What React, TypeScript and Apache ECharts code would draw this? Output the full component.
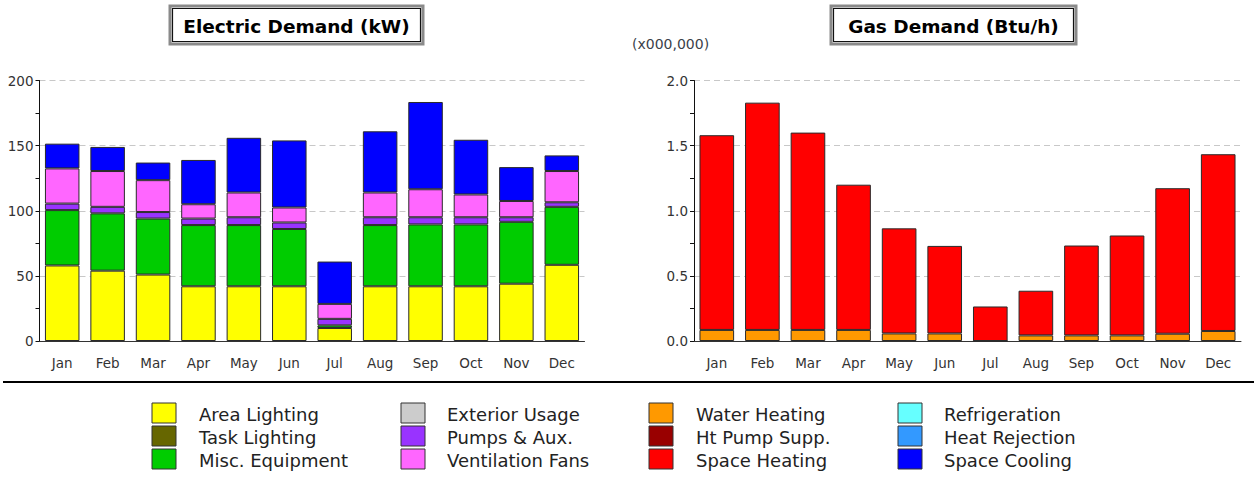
import React, { useEffect, useRef } from "react";
import * as echarts from "echarts";

const months = ["Jan", "Feb", "Mar", "Apr", "May", "Jun", "Jul", "Aug", "Sep", "Oct", "Nov", "Dec"];

// Electric demand (kW)
const areaLighting = [58, 54, 51, 42, 42, 42, 10, 42, 42, 42, 44, 58.5];
const miscEquipment = [42.5, 44, 43, 47, 47, 44, 2, 47, 47.5, 47.5, 47.5, 44.5];
const pumpsAux = [5, 5, 5, 5, 6, 5, 5, 6, 5.5, 5.5, 3.5, 3.5];
const ventilationFans = [27, 27.5, 24.5, 11, 19, 11.5, 11.5, 19, 21.5, 17.5, 12.5, 24];
const spaceCooling = [19, 18.5, 13.5, 34, 42, 51.5, 32.5, 47, 67, 42, 26, 12];

// Gas demand (Btu/h, x000,000)
const waterHeating = [0.085, 0.085, 0.085, 0.085, 0.058, 0.058, 0, 0.043, 0.043, 0.043, 0.056, 0.077];
const spaceHeating = [1.495, 1.745, 1.515, 1.115, 0.807, 0.672, 0.265, 0.343, 0.69, 0.767, 1.117, 1.357];

const electricTicks = [0, 200, 50];
const gasTicks = [0, 2, 0.5];

const legendNames = [
  ["Area Lighting", "Task Lighting", "Misc. Equipment"],
  ["Exterior Usage", "Pumps & Aux.", "Ventilation Fans"],
  ["Water Heating", "Ht Pump Supp.", "Space Heating"],
  ["Refrigeration", "Heat Rejection", "Space Cooling"],
];
const legendColors = [
  ["#FFFF00", "#666600", "#00CC00"],
  ["#CCCCCC", "#9933FF", "#FF66FF"],
  ["#FF9900", "#990000", "#FF0000"],
  ["#66FFFF", "#3399FF", "#0000FF"],
];

const FONT = "DejaVu Sans, Verdana, sans-serif";

export default function App() {
  const ref = useRef<HTMLDivElement>(null);
  useEffect(() => {
    const chart = echarts.init(ref.current!, undefined, { renderer: "svg" });

    const barStyle = (color: string) => ({ color, borderColor: "#2a2a2a", borderWidth: 1 });
    const mk = (name: string, data: number[], color: string, idx: number, stack: string) => ({
      type: "bar",
      name,
      data,
      stack,
      xAxisIndex: idx,
      yAxisIndex: idx,
      barWidth: "76%",
      itemStyle: barStyle(color),
      emphasis: { disabled: true },
    });

    const xAxisBase = (gridIndex: number) => ({
      type: "category",
      gridIndex,
      data: months,
      boundaryGap: true,
      axisLine: { lineStyle: { color: "#333", width: 1 } },
      axisTick: { alignWithLabel: true, length: 4, lineStyle: { color: "#333" } },
      axisLabel: { color: "#333", fontFamily: FONT, fontSize: 13.5, margin: 15 },
    });
    const yAxisBase = (gridIndex: number, t: number[], fmt: (v: number) => string) => ({
      type: "value",
      gridIndex,
      min: t[0],
      max: t[1],
      interval: t[2],
      axisLine: { show: true, lineStyle: { color: "#111", width: 1 } },
      axisTick: { show: true, length: 4, lineStyle: { color: "#111" } },
      minorTick: { show: true, splitNumber: 2, length: 4, lineStyle: { color: "#111" } },
      splitLine: { show: true, lineStyle: { color: "#c8c8c8", type: [6, 4], width: 1 } },
      axisLabel: { color: "#333", fontFamily: FONT, fontSize: 13.5, margin: 6, formatter: fmt },
    });

    const graphics: any[] = [];
    const titleBox = (x: number, w: number, text: string) => {
      graphics.push({
        type: "rect",
        shape: { x, y: 6, width: w, height: 38 },
        style: { fill: "#fff", stroke: "#8a8a8a", lineWidth: 3 },
      });
      graphics.push({
        type: "rect",
        shape: { x: x + 2.5, y: 8.5, width: w - 5, height: 33 },
        style: { fill: "none", stroke: "#111", lineWidth: 1.2 },
      });
      graphics.push({
        type: "text",
        x: x + w / 2,
        y: 26,
        style: {
          text,
          fill: "#000",
          font: `bold 18.5px ${FONT}`,
          textAlign: "center",
          textVerticalAlign: "middle",
        },
      });
    };
    titleBox(170, 253, "Electric Demand (kW)");
    titleBox(831, 245, "Gas Demand (Btu/h)");
    graphics.push({
      type: "text",
      x: 632,
      y: 44,
      style: { text: "(x000,000)", fill: "#3a3f4a", font: `14px ${FONT}`, textVerticalAlign: "middle" },
    });
    graphics.push({
      type: "line",
      shape: { x1: 3, y1: 382, x2: 1254, y2: 382 },
      style: { stroke: "#000", lineWidth: 2 },
    });
    const swX = [152, 401, 649, 898];
    const txX = [199, 447, 696, 944];
    const rowY = [403, 426, 449];
    legendNames.forEach((col, c) => {
      col.forEach((name, r) => {
        graphics.push({
          type: "rect",
          shape: { x: swX[c], y: rowY[r], width: 24, height: 20 },
          style: { fill: legendColors[c][r], stroke: "#333", lineWidth: 1 },
        });
        graphics.push({
          type: "text",
          x: txX[c],
          y: rowY[r] + 11.5,
          style: { text: name, fill: "#222", font: `18px ${FONT}`, textVerticalAlign: "middle" },
        });
      });
    });

    chart.setOption({
      animation: false,
      backgroundColor: "#fff",
      grid: [
        { left: 39.5, top: 80.5, width: 545, height: 260.5 },
        { left: 694, top: 80.5, width: 547, height: 260.5 },
      ],
      xAxis: [xAxisBase(0), xAxisBase(1)],
      yAxis: [
        yAxisBase(0, electricTicks, (v: number) => String(v)),
        yAxisBase(1, gasTicks, (v: number) => v.toFixed(1)),
      ],
      series: [
        mk("Area Lighting", areaLighting, "#FFFF00", 0, "elec"),
        mk("Misc. Equipment", miscEquipment, "#00CC00", 0, "elec"),
        mk("Pumps & Aux.", pumpsAux, "#9933FF", 0, "elec"),
        mk("Ventilation Fans", ventilationFans, "#FF66FF", 0, "elec"),
        mk("Space Cooling", spaceCooling, "#0000FF", 0, "elec"),
        mk("Water Heating", waterHeating, "#FF9900", 1, "gas"),
        mk("Space Heating", spaceHeating, "#FF0000", 1, "gas"),
      ],
      graphic: graphics,
    });
    return () => chart.dispose();
  }, []);
  return (
    <div
      ref={ref}
      style={{ position: "absolute", left: 0, top: 0, width: 1255, height: 487, background: "#fff" }}
    />
  );
}
